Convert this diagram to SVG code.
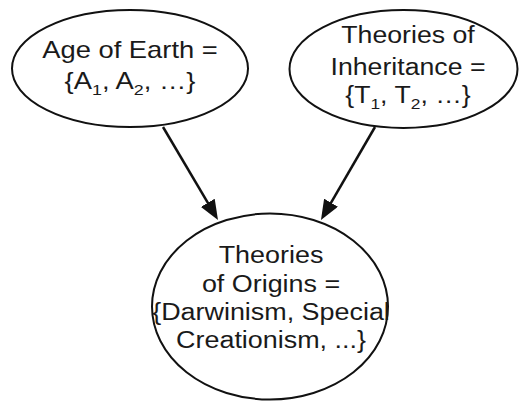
<svg xmlns="http://www.w3.org/2000/svg" width="520" height="401" viewBox="0 0 520 401">
<style>
.node ellipse{fill:#fff;stroke:#111;stroke-width:2}
.node text{font-family:"Liberation Sans",Arial,Helvetica,sans-serif;font-size:23px;fill:#1a1a1a;text-anchor:middle}
.sub{font-size:15px}
.edge{stroke:#111;stroke-width:2.5;fill:none;marker-end:url(#ah)}
</style>
<defs>
<marker id="ah" viewBox="0 0 20 16" markerWidth="20" markerHeight="16" refX="10" refY="8" orient="auto" markerUnits="userSpaceOnUse">
<path d="M0,0 L20,8 L0,16 Z" fill="#111"/>
</marker>
</defs>
<g id="connectors">
<line class="edge" x1="163" y1="127" x2="212.9" y2="211.4"/>
<line class="edge" x1="375" y1="127" x2="326" y2="211.35"/>
</g>
<g id="age" class="node">
<ellipse cx="130" cy="68.5" rx="118" ry="58.5"/>
<g transform="translate(130,0) scale(1.19,1)">
<text x="0" y="58">Age of Earth =</text>
<text x="0" y="89">{A<tspan class="sub" dy="6">1</tspan><tspan dy="-6">, A</tspan><tspan class="sub" dy="6">2</tspan><tspan dy="-6">, …}</tspan></text>
</g>
</g>
<g id="inheritance" class="node">
<ellipse cx="403.5" cy="69" rx="114" ry="59"/>
<g transform="translate(408,0) scale(1.16,1)">
<text x="0" y="43">Theories of</text>
<text x="0" y="75">Inheritance =</text>
<text x="0" y="103">{T<tspan class="sub" dy="6">1</tspan><tspan dy="-6">, T</tspan><tspan class="sub" dy="6">2</tspan><tspan dy="-6">, …}</tspan></text>
</g>
</g>
<g id="origins" class="node">
<ellipse cx="270" cy="306.5" rx="118" ry="93"/>
<g transform="translate(271,0) scale(1.17,1)">
<text x="0" y="263">Theories</text>
<text x="0" y="292">of Origins =</text>
<text x="0" y="320">{Darwinism, Special</text>
<text x="0" y="348">Creationism, ...}</text>
</g>
</g>
</svg>
